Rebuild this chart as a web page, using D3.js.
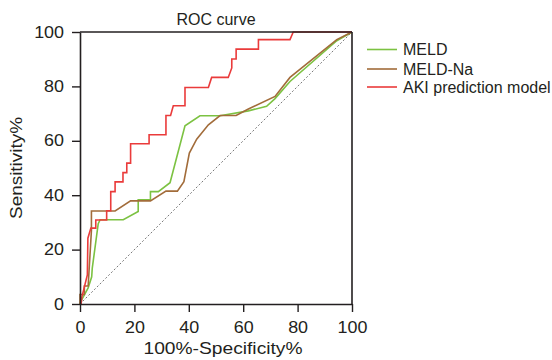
<!DOCTYPE html>
<html>
<head>
<meta charset="utf-8">
<script src="https://cdn.jsdelivr.net/npm/d3@7"></script>
<style>
  html, body { margin: 0; padding: 0; background: #fff; }
  svg { display: block; }
  text { font-family: "Liberation Sans", Arial, Helvetica, sans-serif; fill: #231f20; }
</style>
</head>
<body>
<svg id="chart" width="552" height="360"></svg>
<script>
// ---- data ----
const title = "ROC curve";
const xLabel = "100%-Specificity%";
const yLabel = "Sensitivity%";
const tickValues = [0, 20, 40, 60, 80, 100];
const seriesNames = ["MELD", "MELD-Na", "AKI prediction model"];
const seriesColors = ["#7cc242", "#a26c3a", "#ea3b3b"];

const meldX = [0, 0.6, 3, 4.3, 4.5, 6.7, 7.4, 15.9, 21.4, 21.4, 25.9, 25.9, 28.8, 33.1, 38.6, 44.1, 51.5, 61.9, 68.6, 71.7, 77.2, 94.4, 100];
const meldY = [0, 1.5, 5.9, 10, 13.1, 29.5, 31.0, 31.0, 34, 38.3, 38.3, 41.3, 41.3, 44.6, 65.5, 69.2, 69.2, 71, 72.7, 75.5, 81.8, 96.8, 100];

const meldNaX = [0, 0, 1.6, 1.6, 3.0, 4.2, 4.2, 12.9, 18.6, 25.9, 31.6, 35.8, 38.2, 40.2, 42.9, 47.2, 51.5, 57.4, 61.9, 71.7, 77.2, 94.4, 100];
const meldNaY = [0, 3.5, 3.5, 6.6, 6.6, 27, 34.2, 34.2, 37.9, 37.9, 41.5, 41.5, 45, 55.5, 60.6, 65.9, 69.3, 69.3, 71.7, 76.3, 83.3, 97.2, 100];

const akiX = [0, 0.4, 0.7, 2.7, 2.9, 4.0, 5.8, 5.8, 9.8, 9.8, 11.3, 11.3, 12.9, 12.9, 15.8, 15.8, 17.2, 17.2, 18.6, 18.6, 25.4, 25.4, 31.6, 31.6, 33.3, 34.3, 38.6, 38.6, 47.2, 48.4, 54.5, 55.8, 55.8, 57.4, 57.4, 65.6, 65.6, 77.2, 78.4, 100];
const akiY = [0, 0, 2.6, 10.7, 24.2, 27.9, 27.9, 30.9, 30.9, 34.3, 34.3, 41.3, 41.3, 44.9, 44.9, 48.3, 48.3, 51.8, 51.8, 58.9, 58.9, 62.2, 62.2, 69.3, 69.3, 72.9, 72.9, 79.6, 79.6, 83.3, 83.3, 86.8, 90.1, 90.1, 93.7, 93.7, 97.2, 97.2, 100, 100];

const refX = [0, 100];
const refY = [0, 100];

// ---- layout ----
const svg = d3.select("#chart");
const pLeft = 80, pRight = 352, pTop = 32, pBottom = 304;
const x = d3.scaleLinear().domain([0, 100]).range([pLeft, pRight]);
const y = d3.scaleLinear().domain([0, 100]).range([pBottom, pTop]);
const ink = "#231f20";

const toPts = (xs, ys) => xs.map((v, i) => [v, ys[i]]);
const line = d3.line().x(d => x(d[0])).y(d => y(d[1]));

// diagonal reference
svg.append("path")
  .attr("d", line(toPts(refX, refY)))
  .attr("fill", "none")
  .attr("stroke", "#555")
  .attr("stroke-width", 0.8)
  .attr("stroke-dasharray", "2,2");

// curves
const series = [
  { xs: meldX, ys: meldY },
  { xs: meldNaX, ys: meldNaY },
  { xs: akiX, ys: akiY }
];
series.forEach((s, i) => {
  svg.append("path")
    .attr("d", line(toPts(s.xs, s.ys)))
    .attr("fill", "none")
    .attr("stroke", seriesColors[i])
    .attr("stroke-width", 1.6)
    .attr("stroke-linejoin", "miter");
});

// axes
const xAxis = d3.axisBottom(x).tickValues(tickValues).tickSize(8).tickSizeOuter(0).tickPadding(9.5);
const yAxis = d3.axisLeft(y).tickValues(tickValues).tickSize(8).tickSizeOuter(0).tickPadding(8);

const gx = svg.append("g").attr("transform", `translate(0,${pBottom})`).call(xAxis);
const gy = svg.append("g").attr("transform", `translate(${pLeft},0)`).call(yAxis);

[gx, gy].forEach(g => {
  g.select(".domain").attr("stroke", ink).attr("stroke-width", 1.6);
  g.selectAll(".tick line").attr("stroke", ink).attr("stroke-width", 1.4);
  g.selectAll(".tick text")
    .attr("fill", ink)
    .style("font-family", '"Liberation Sans", Arial, sans-serif')
    .style("font-size", "16px");
});
gx.selectAll(".tick text").attr("transform", "scale(1.12,1)");
gy.selectAll(".tick text").attr("x", -16 / 1.12).attr("transform", "scale(1.12,1)");

// frame top & right
svg.append("line").attr("x1", pLeft).attr("x2", pRight).attr("y1", pTop).attr("y2", pTop)
  .attr("stroke", ink).attr("stroke-width", 1.6);
svg.append("line").attr("x1", pRight).attr("x2", pRight).attr("y1", pTop).attr("y2", pBottom)
  .attr("stroke", ink).attr("stroke-width", 1.6);

// title
svg.append("text")
  .attr("x", 216).attr("y", 25)
  .attr("text-anchor", "middle")
  .style("font-size", "16px")
  .text(title);

// axis titles
svg.append("text")
  .attr("x", 223).attr("y", 354)
  .attr("text-anchor", "middle")
  .style("font-size", "16.5px")
  .attr("textLength", 159)
  .attr("lengthAdjust", "spacingAndGlyphs")
  .text(xLabel);

svg.append("text")
  .attr("transform", "translate(22,168) rotate(-90)")
  .attr("text-anchor", "middle")
  .style("font-size", "17px")
  .attr("textLength", 102)
  .attr("lengthAdjust", "spacingAndGlyphs")
  .text(yLabel);

// legend
const legendY = [49.5, 69, 87];
seriesNames.forEach((name, i) => {
  svg.append("line")
    .attr("x1", 367).attr("x2", 397)
    .attr("y1", legendY[i]).attr("y2", legendY[i])
    .attr("stroke", seriesColors[i]).attr("stroke-width", 1.6);
  svg.append("text")
    .attr("x", 403).attr("y", legendY[i] + 5.8)
    .style("font-size", "16px")
    .text(name);
});
</script>
</body>
</html>
